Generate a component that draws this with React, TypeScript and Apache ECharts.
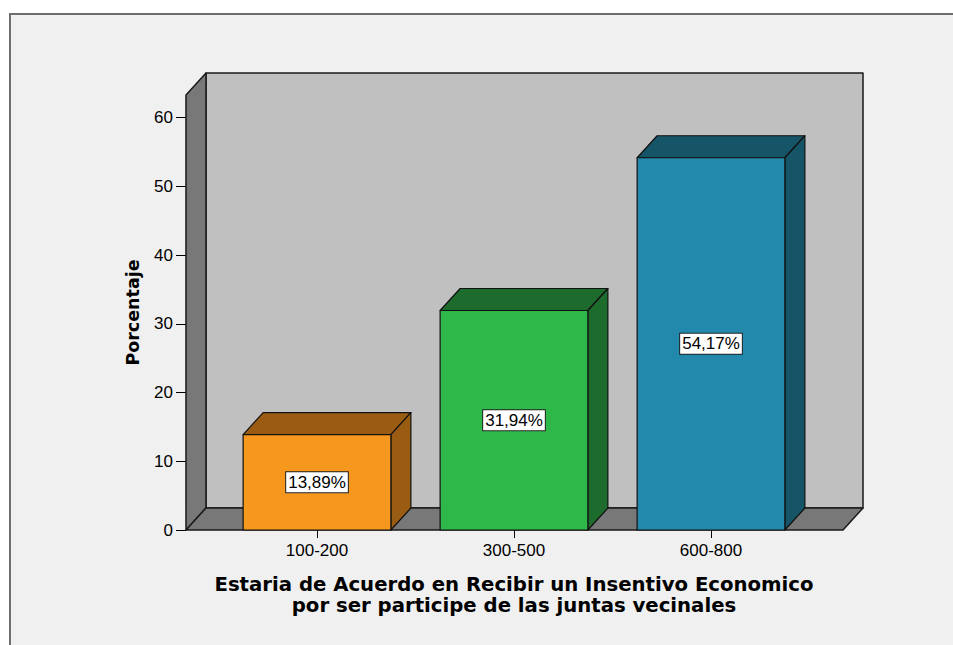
import React, { useEffect, useRef } from "react";
import * as echarts from "echarts";

const categories = ["100-200", "300-500", "600-800"];
const values = [13.89, 31.94, 54.17];
const valueLabels = ["13,89%", "31,94%", "54,17%"];
const yTicks = [0, 10, 20, 30, 40, 50, 60];
const frontColors = ["#F7981E", "#2FB84A", "#2389AC"];
const darkColors = ["#9A5B12", "#1E6C2D", "#165568"];
const xTitle = "Estaria de Acuerdo en Recibir un Insentivo Economico\npor ser participe de las juntas vecinales";
const yTitle = "Porcentaje";

const DX = 20;
const DY = -22;

export default function App() {
  const ref = useRef<HTMLDivElement>(null);
  useEffect(() => {
    if (!ref.current) return;
    const chart = echarts.init(ref.current, undefined, { renderer: "svg" });
    const option: any = {
      animation: false,
      backgroundColor: "#ffffff",
      graphic: [
        {
          type: "rect",
          z: -10,
          silent: true,
          shape: { x: 10, y: 14, width: 960, height: 650 },
          style: { fill: "#F0F0F0", stroke: "#6E6E6E", lineWidth: 2 },
        },
      ],
      grid: { left: 218.5, right: 143.5, top: 95, bottom: 115 },
      xAxis: {
        type: "category",
        data: categories,
        axisLine: { show: false },
        axisTick: { show: true, alignWithLabel: true, length: 8, lineStyle: { color: "#000", width: 1 } },
        axisLabel: { color: "#000", fontSize: 17, fontFamily: "Liberation Sans", margin: 12 },
        splitLine: { show: false },
        name: xTitle,
        nameLocation: "middle",
        nameGap: 44,
        nameTextStyle: {
          color: "#000",
          fontSize: 19.7,
          fontWeight: "bold",
          fontFamily: "DejaVu Sans",
          lineHeight: 21,
          align: "center",
        },
      },
      yAxis: {
        type: "value",
        min: 0,
        max: 63.3,
        interval: 10,
        offset: 32.5,
        axisLine: { show: true, lineStyle: { color: "#000", width: 1 } },
        axisTick: { show: true, length: 10, lineStyle: { color: "#000", width: 1 }, customValues: yTicks },
        axisLabel: { color: "#000", fontSize: 17, fontFamily: "Liberation Sans", margin: 13, customValues: yTicks },
        splitLine: { show: false },
        name: yTitle,
        nameLocation: "middle",
        nameRotate: 90,
        nameGap: 44,
        nameTextStyle: { color: "#000", fontSize: 17.5, fontWeight: "bold", fontFamily: "DejaVu Sans" },
      },
      series: [
        {
          type: "custom",
          z: 1,
          clip: false,
          silent: true,
          data: [[0, 0]],
          renderItem: (params: any, api: any) => {
            const band = api.size([1, 0])[0];
            const first = api.coord([0, 0]);
            const last = api.coord([categories.length - 1, 0]);
            const top = api.coord([0, 63.3])[1];
            const L = first[0] - 0.665 * band;
            const R = last[0] + 0.67 * band;
            const B = first[1];
            const T = top;
            const stroke = { stroke: "#1A1A1A", lineWidth: 1.5, lineJoin: "round" };
            return {
              type: "group",
              children: [
                {
                  type: "polygon",
                  shape: { points: [[L + DX, T + DY], [R + DX, T + DY], [R + DX, B + DY], [L + DX, B + DY]] },
                  style: { fill: "#C0C0C0", ...stroke },
                },
                {
                  type: "polygon",
                  shape: { points: [[L, B], [L, T], [L + DX, T + DY], [L + DX, B + DY]] },
                  style: { fill: "#787878", ...stroke },
                },
                {
                  type: "polygon",
                  shape: { points: [[L, B], [R, B], [R + DX, B + DY], [L + DX, B + DY]] },
                  style: { fill: "#787878", ...stroke },
                },
              ],
            };
          },
        },
        {
          type: "custom",
          z: 2,
          clip: false,
          data: values.map((v, i) => [i, v]),
          renderItem: (params: any, api: any) => {
            const idx = api.value(0);
            const v = api.value(1);
            const band = api.size([1, 0])[0];
            const w = band * 0.75;
            const p0 = api.coord([idx, 0]);
            const p1 = api.coord([idx, v]);
            const xl = p0[0] - w / 2;
            const xr = p0[0] + w / 2;
            const yb = p0[1];
            const yt = p1[1];
            const stroke = { stroke: "#111", lineWidth: 1.2, lineJoin: "round" };
            return {
              type: "group",
              children: [
                {
                  type: "polygon",
                  shape: { points: [[xl, yt], [xr, yt], [xr + DX, yt + DY], [xl + DX, yt + DY]] },
                  style: { fill: darkColors[idx], ...stroke },
                },
                {
                  type: "polygon",
                  shape: { points: [[xr, yt], [xr + DX, yt + DY], [xr + DX, yb + DY], [xr, yb]] },
                  style: { fill: darkColors[idx], ...stroke },
                },
                {
                  type: "rect",
                  shape: { x: xl, y: yt, width: w, height: yb - yt },
                  style: { fill: frontColors[idx], ...stroke },
                },
                {
                  type: "text",
                  x: p0[0],
                  y: (yt + yb) / 2,
                  style: {
                    text: valueLabels[idx],
                    fill: "#000",
                    fontSize: 17,
                    fontFamily: "Liberation Sans",
                    align: "center",
                    verticalAlign: "middle",
                    backgroundColor: "#FFFFFF",
                    borderColor: "#222",
                    borderWidth: 1,
                    padding: [2, 2, 1, 2],
                  },
                },
              ],
            };
          },
        },
      ],
    };
    chart.setOption(option);
    return () => chart.dispose();
  }, []);
  return (
    <div
      ref={ref}
      style={{ position: "absolute", left: 0, top: 0, width: 953, height: 645 }}
    />
  );
}
